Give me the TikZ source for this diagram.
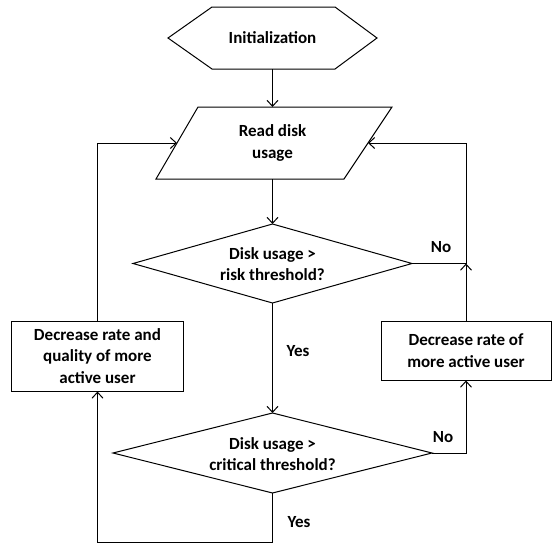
\documentclass[tikz,border=0pt]{standalone}
\usepackage{fontspec}
\setmainfont{Carlito}
\usetikzlibrary{arrows.meta,calc}
\begin{document}
\begin{tikzpicture}[x=1pt,y=1pt,
  line/.style={draw=black, line width=1pt},
  arr/.style={line, -{Straight Barb[length=6pt,width=11pt]}},
  lbl/.style={font=\fontsize{17}{21.5}\selectfont\bfseries, align=center, inner sep=0pt},
  box/.style={lbl, draw, line width=1pt, rectangle},
]
\useasboundingbox (0,0) rectangle (552,-544);

% Initialization hexagon
\node[lbl] (init) at (272.5,-38) {Initialization};
\draw[line] (168,-38) -- (212,-7) -- (335,-7) -- (377,-38) -- (335,-69) -- (212,-69) -- cycle;
\coordinate (initB) at (272.5,-69);

% Read disk usage parallelogram
\node[lbl] (read) at (272.5,-143) {Read disk\\usage};
\draw[line] (198,-107) -- (392,-107) -- (344,-179) -- (156,-179) -- cycle;
\coordinate (readT) at (272.5,-107);
\coordinate (readB) at (272.5,-179);
\coordinate (readL) at (177,-143);
\coordinate (readR) at (368,-143);

% Decision 1
\node[lbl] (d1) at (272.5,-264) {Disk usage >\\risk threshold?};
\coordinate (d1N) at (272.5,-224);
\coordinate (d1S) at (272.5,-303);
\coordinate (d1E) at (412,-263.5);
\coordinate (d1W) at (133,-263.5);
\draw[line] (d1N) -- (d1E) -- (d1S) -- (d1W) -- cycle;

% Decision 2
\node[lbl] (d2) at (272.5,-454) {Disk usage >\\critical threshold?};
\coordinate (d2N) at (272.5,-413);
\coordinate (d2S) at (272.5,-493);
\coordinate (d2E) at (432,-453);
\coordinate (d2W) at (113,-453);
\draw[line] (d2N) -- (d2E) -- (d2S) -- (d2W) -- cycle;

% Action boxes
\node[box, minimum width=172pt, minimum height=70pt] (lb) at (97.5,-356) {Decrease rate and\\quality of more\\active user};
\node[box, minimum width=170pt, minimum height=59pt] (rb) at (466,-350.5) {Decrease rate of\\more active user};

\coordinate (bot) at (0,-542);

% Connectors
\draw[arr] (initB) -- (readT);
\draw[arr] (readB) -- (d1N);
\draw[arr] (d1S) -- (d2N);
\draw[arr] (d1E) -| (rb.north |- readR) -- (readR);
\draw[arr] (rb.north) -- (rb.north |- d1E);
\draw[arr] (d2E) -| (rb.south);
\draw[arr] (d2S) -- (d2S |- bot) -| (lb.south);
\draw[arr] (lb.north) |- (readL);

% Labels
\node[lbl] (no1) at (441,-247) {No};
\node[lbl] (no2) at (443,-437) {No};
\node[lbl] (yes1) at (298,-351) {Yes};
\node[lbl] (yes2) at (299,-522) {Yes};
\end{tikzpicture}
\end{document}
